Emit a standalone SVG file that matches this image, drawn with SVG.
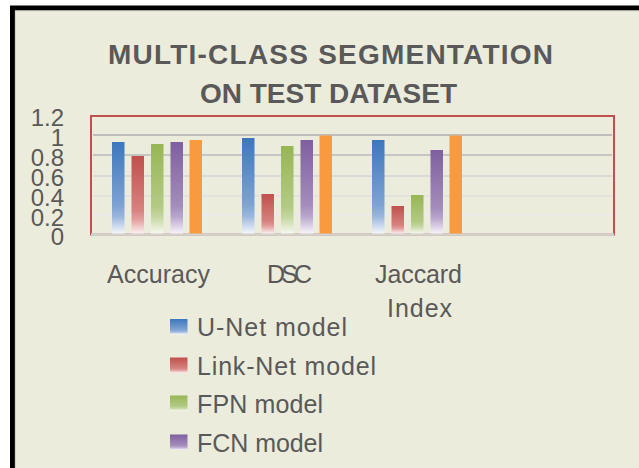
<svg xmlns="http://www.w3.org/2000/svg" width="639" height="468" viewBox="0 0 639 468">
  <style>
    .lbl { font-family: "Liberation Sans", Arial, sans-serif; fill: #595959; }
    .title { font-size: 28px; font-weight: bold; text-anchor: middle; }
    .ytick { font-size: 24px; text-anchor: end; }
    .cat { font-size: 25px; text-anchor: middle; }
    .leg { font-size: 25px; }
    .grid { stroke-width: 2; }
  </style>
  <defs>
    <linearGradient id="gBlue" x1="0" y1="0" x2="0" y2="1">
      <stop offset="0" stop-color="#3C77BD"/>
      <stop offset="0.7" stop-color="#7FA3D3"/>
      <stop offset="0.82" stop-color="#9AB7DE"/>
      <stop offset="1" stop-color="#F4F6FB"/>
    </linearGradient>
    <linearGradient id="gRed" x1="0" y1="0" x2="0" y2="1">
      <stop offset="0" stop-color="#C0504D"/>
      <stop offset="0.7" stop-color="#D7827F"/>
      <stop offset="0.82" stop-color="#E3A09E"/>
      <stop offset="1" stop-color="#FBEFEF"/>
    </linearGradient>
    <linearGradient id="gGreen" x1="0" y1="0" x2="0" y2="1">
      <stop offset="0" stop-color="#98B654"/>
      <stop offset="0.7" stop-color="#B3CA85"/>
      <stop offset="0.82" stop-color="#C6D7A2"/>
      <stop offset="1" stop-color="#F6F8EF"/>
    </linearGradient>
    <linearGradient id="gPurple" x1="0" y1="0" x2="0" y2="1">
      <stop offset="0" stop-color="#7E5F9F"/>
      <stop offset="0.7" stop-color="#A48DBC"/>
      <stop offset="0.82" stop-color="#B9A7CD"/>
      <stop offset="1" stop-color="#F7F4FA"/>
    </linearGradient>
  </defs>

  <!-- page and chart frame -->
  <rect x="0" y="0" width="639" height="468" fill="#FFFFFF"/>
  <rect id="chart-bg" x="12.5" y="8" width="630" height="465" fill="#ECECDC" stroke="#000000" stroke-width="5"/>
  <line x1="15.5" y1="10.8" x2="639" y2="10.8" stroke="#C9C9BD" stroke-width="0.8"/>
  <line x1="15.3" y1="10.5" x2="15.3" y2="468" stroke="#C9C9BD" stroke-width="0.8"/>

  <!-- title -->
  <g id="title" class="lbl">
    <text class="title" x="330.5" y="64" textLength="445" lengthAdjust="spacing">MULTI-CLASS SEGMENTATION</text>
    <text class="title" x="328.5" y="103" textLength="257" lengthAdjust="spacing">ON TEST DATASET</text>
  </g>

  <!-- plot area with gridlines -->
  <g id="plot-area">
    <rect x="91" y="116" width="523" height="118.5" fill="none" stroke="#C0504D" stroke-width="2"/>
    <line class="grid" x1="93" y1="135" x2="612" y2="135" stroke="#BEBEBE"/>
    <line class="grid" x1="93" y1="155" x2="612" y2="155" stroke="#C6C6C3"/>
    <line class="grid" x1="93" y1="176" x2="612" y2="176" stroke="#DADAD6"/>
    <line class="grid" x1="93" y1="196" x2="612" y2="196" stroke="#E2E2DF"/>
    <line class="grid" x1="93" y1="215" x2="612" y2="215" stroke="#EBEBEA"/>
    <line x1="91" y1="234.5" x2="614" y2="234.5" stroke="#D3D3D0" stroke-width="2.5"/>
  </g>

  <!-- value axis -->
  <g id="value-axis" class="lbl">
    <text class="ytick" x="64" y="126">1.2</text>
    <text class="ytick" x="64" y="146">1</text>
    <text class="ytick" x="64" y="166">0.8</text>
    <text class="ytick" x="64" y="186">0.6</text>
    <text class="ytick" x="64" y="206">0.4</text>
    <text class="ytick" x="64" y="226">0.2</text>
    <text class="ytick" x="64" y="245">0</text>
  </g>

  <!-- series: U-Net -->
  <g id="series-unet" fill="url(#gBlue)">
    <rect x="112" y="142" width="12.5" height="91.5"/>
    <rect x="242" y="138" width="12.5" height="95.5"/>
    <rect x="372" y="140" width="12.5" height="93.5"/>
  </g>
  <!-- series: Link-Net -->
  <g id="series-linknet" fill="url(#gRed)">
    <rect x="131.5" y="156" width="12.5" height="77.5"/>
    <rect x="261.5" y="194" width="12.5" height="39.5"/>
    <rect x="391.5" y="206" width="12.5" height="27.5"/>
  </g>
  <!-- series: FPN -->
  <g id="series-fpn" fill="url(#gGreen)">
    <rect x="151" y="144" width="12.5" height="89.5"/>
    <rect x="281" y="146" width="12.5" height="87.5"/>
    <rect x="411" y="195" width="12.5" height="38.5"/>
  </g>
  <!-- series: FCN -->
  <g id="series-fcn" fill="url(#gPurple)">
    <rect x="170.5" y="142" width="12.5" height="91.5"/>
    <rect x="300.5" y="140" width="12.5" height="93.5"/>
    <rect x="430.5" y="150" width="12.5" height="83.5"/>
  </g>
  <!-- series: fifth model (solid orange) -->
  <g id="series-orange" fill="#F99A3E">
    <rect x="189.5" y="140" width="12.5" height="93.5"/>
    <rect x="319.5" y="135.5" width="12.5" height="98"/>
    <rect x="449.5" y="135.5" width="12.5" height="98"/>
  </g>

  <!-- category axis -->
  <g id="category-axis" class="lbl">
    <text class="cat" x="158.5" y="283" textLength="103" lengthAdjust="spacing">Accuracy</text>
    <text class="cat" x="289.5" y="283" textLength="45" lengthAdjust="spacing">DSC</text>
    <text class="cat" x="418.5" y="283" textLength="87" lengthAdjust="spacing">Jaccard</text>
    <text class="cat" x="419.5" y="317" textLength="65" lengthAdjust="spacing">Index</text>
  </g>

  <!-- legend -->
  <g id="legend" class="lbl">
    <g id="legend-unet">
      <rect x="170" y="319" width="17.5" height="15.5" fill="url(#gBlue)"/>
      <text class="leg" x="197" y="336" textLength="150" lengthAdjust="spacing">U-Net model</text>
    </g>
    <g id="legend-linknet">
      <rect x="170" y="357.5" width="17.5" height="15.5" fill="url(#gRed)"/>
      <text class="leg" x="197" y="375" textLength="179" lengthAdjust="spacing">Link-Net model</text>
    </g>
    <g id="legend-fpn">
      <rect x="170" y="395.5" width="17.5" height="15.5" fill="url(#gGreen)"/>
      <text class="leg" x="197" y="413" textLength="126" lengthAdjust="spacing">FPN model</text>
    </g>
    <g id="legend-fcn">
      <rect x="170" y="434.5" width="17.5" height="15.5" fill="url(#gPurple)"/>
      <text class="leg" x="197" y="452" textLength="126" lengthAdjust="spacing">FCN model</text>
    </g>
  </g>
</svg>
